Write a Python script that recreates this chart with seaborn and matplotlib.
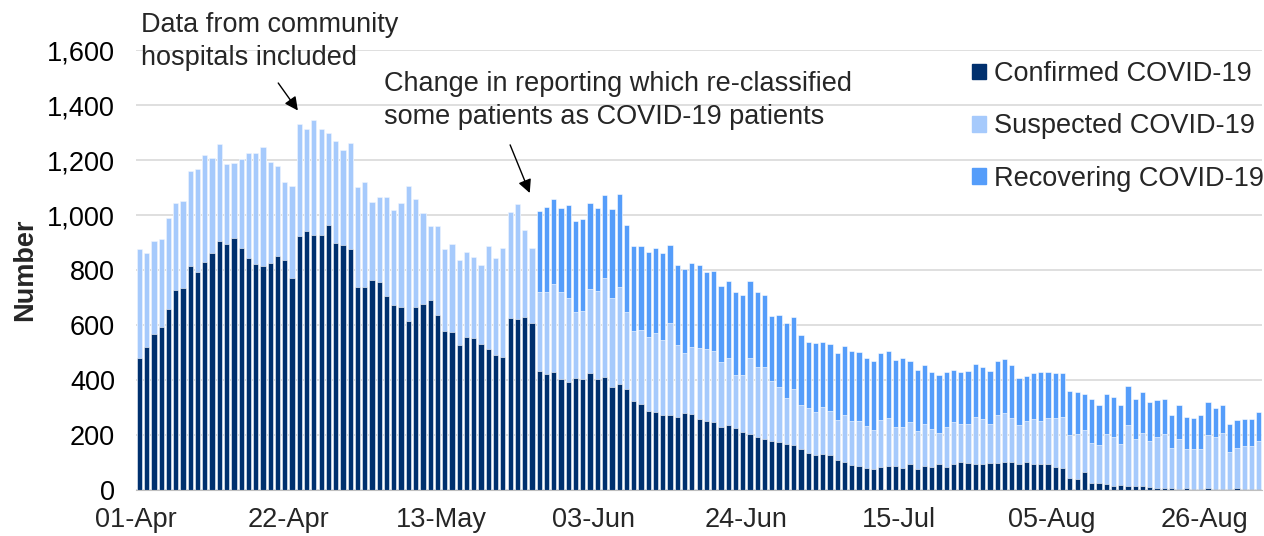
import numpy as np
import pandas as pd
import matplotlib
matplotlib.use("Agg")
import matplotlib.pyplot as plt
import seaborn as sns
from matplotlib.patches import Patch

# Daily values, 01-Apr to 02-Sep
confirmed = [
    481, 520, 566, 591, 659, 727, 736, 815, 791, 830, 861, 907, 895, 916, 881, 842, 822, 813, 825, 852,
    835, 770, 924, 941, 929, 929, 962, 898, 890, 876, 739, 739, 762, 756, 707, 671, 664, 613, 664, 677,
    690, 638, 578, 575, 527, 558, 553, 532, 512, 490, 485, 625, 621, 629, 608, 433, 421, 429, 404, 392,
    408, 404, 424, 404, 412, 375, 387, 366, 322, 314, 288, 284, 272, 272, 267, 280, 276, 258, 251, 246,
    228, 236, 224, 211, 202, 194, 185, 177, 173, 168, 165, 148, 135, 126, 131, 126, 109, 101, 92, 88,
    80, 75, 84, 88, 87, 79, 95, 75, 87, 84, 93, 84, 93, 101, 97, 93, 93, 98, 98, 102,
    102, 93, 102, 93, 93, 93, 84, 79, 45, 41, 67, 24, 24, 21, 16, 19, 16, 16, 16, 11,
    7, 7, 7, 5, 7, 4, 4, 7, 5, 5, 5, 7, 5, 5, 5,
]
suspected = [
    395, 341, 341, 320, 330, 317, 316, 344, 376, 388, 345, 350, 289, 273, 324, 385, 405, 434, 368, 328,
    285, 337, 406, 371, 416, 383, 337, 371, 345, 385, 363, 381, 285, 308, 357, 347, 378, 494, 396, 332,
    271, 323, 298, 318, 311, 306, 293, 286, 374, 354, 396, 387, 418, 316, 273, 286, 298, 320, 315, 306,
    239, 247, 307, 318, 358, 323, 352, 281, 257, 269, 270, 286, 273, 336, 260, 218, 243, 257, 262, 259,
    239, 244, 193, 206, 278, 253, 262, 218, 200, 167, 203, 161, 162, 158, 170, 161, 146, 171, 158, 162,
    153, 144, 171, 175, 143, 151, 151, 141, 154, 137, 114, 145, 153, 140, 144, 174, 165, 143, 174, 178,
    161, 145, 148, 165, 157, 170, 179, 188, 154, 163, 153, 148, 140, 181, 178, 149, 220, 169, 191, 167,
    187, 195, 145, 180, 141, 144, 144, 192, 187, 202, 134, 146, 156, 156, 174,
]
recovering = [0] * 55 + [
    294, 311, 311, 306, 337, 332, 333, 311, 303, 303, 324, 337, 315, 307, 303, 306, 311, 316, 282, 291,
    306, 306, 303, 280, 291, 274, 279, 302, 293, 279, 272, 263, 239, 265, 272, 261, 256, 242, 252, 238,
    244, 242, 250, 255, 251, 247, 249, 242, 242, 243, 250, 222, 222, 214, 208, 210, 200, 192, 188, 192,
    191, 188, 193, 196, 196, 192, 169, 166, 166, 179, 166, 161, 157, 162, 152, 128, 159, 145, 146, 145,
    141, 142, 146, 149, 141, 132, 129, 120, 124, 119, 115, 124, 121, 105, 102, 102, 102, 97, 97, 106,
]
dates = pd.date_range("2020-04-01", periods=len(confirmed), freq="D")
tick_every = 21
labels = ["Confirmed COVID-19", "Suspected COVID-19", "Recovering COVID-19"]

c_conf = "#00306E"
c_susp = "#A6CAFC"
c_rec = "#559DFA"

df = pd.DataFrame({"day": np.arange(len(dates)), "confirmed": confirmed,
                   "suspected": suspected, "recovering": recovering})
df["conf_susp"] = df["confirmed"] + df["suspected"]
df["total"] = df["conf_susp"] + df["recovering"]

sns.set_style("white")
plt.rcParams["font.family"] = ["Liberation Sans", "DejaVu Sans"]

fig = plt.figure(figsize=(12.64, 5.36), dpi=100)
ax = fig.add_axes([0.1074, 0.0858, 0.8914, 0.8209])

# stacked bars: draw the cumulative totals from the back to the front
kw = dict(x="day", ax=ax, width=0.72, edgecolor="white", linewidth=0.4, saturation=1)
sns.barplot(data=df, y="total", color=c_rec, **kw)
sns.barplot(data=df, y="conf_susp", color=c_susp, **kw)
sns.barplot(data=df, y="confirmed", color=c_conf, **kw)

ax.set_ylim(0, 1600)
ax.set_xlim(-0.5, len(dates) - 0.5)
ax.set_yticks(range(0, 1601, 200))
ax.set_yticklabels([f"{v:,}" for v in range(0, 1601, 200)], fontsize=19.5, color="#000000")
ticks = list(range(0, len(dates), tick_every))
ax.set_xticks([t - 0.5 for t in ticks])
ax.set_xticklabels([dates[t].strftime("%d-%b") for t in ticks], fontsize=19.5)
ax.tick_params(axis="x", length=8, color="#BFBFBF", pad=4)
ax.tick_params(axis="y", length=0, pad=15)
ax.grid(axis="y", color="#D9D9D9", linewidth=1.2)
ax.set_axisbelow(True)
for s in ["top", "right", "left"]:
    ax.spines[s].set_visible(False)
ax.spines["bottom"].set_color("#BFBFBF")
ax.set_xlabel("")
ax.set_ylabel("Number", fontsize=19.5, fontweight="bold", labelpad=6)

# legend
handles = [Patch(color=c_conf), Patch(color=c_susp), Patch(color=c_rec)]
ax.legend(handles, labels, loc="upper right", bbox_to_anchor=(1.023, 1.03), frameon=False,
          fontsize=19.5, handlelength=0.5, handleheight=0.5, handletextpad=0.3,
          labelspacing=0.97)

# annotations
arrow = dict(arrowstyle="-|>", color="black", lw=1, mutation_scale=20, shrinkA=0, shrinkB=0)
ax.text(0.25, 1738, "Data from community\nhospitals included", fontsize=19.5,
        ha="left", va="top", linespacing=1.35, clip_on=False)
ax.annotate("", xy=(21.8, 1380), xytext=(19.1, 1480), annotation_clip=False, arrowprops=arrow)
ax.text(33.6, 1523, "Change in reporting which re-classified\nsome patients as COVID-19 patients",
        fontsize=19.5, ha="left", va="top", linespacing=1.35, clip_on=False)
ax.annotate("", xy=(53.7, 1080), xytext=(51.0, 1255), annotation_clip=False, arrowprops=arrow)

fig.savefig("out.png", dpi=100)
